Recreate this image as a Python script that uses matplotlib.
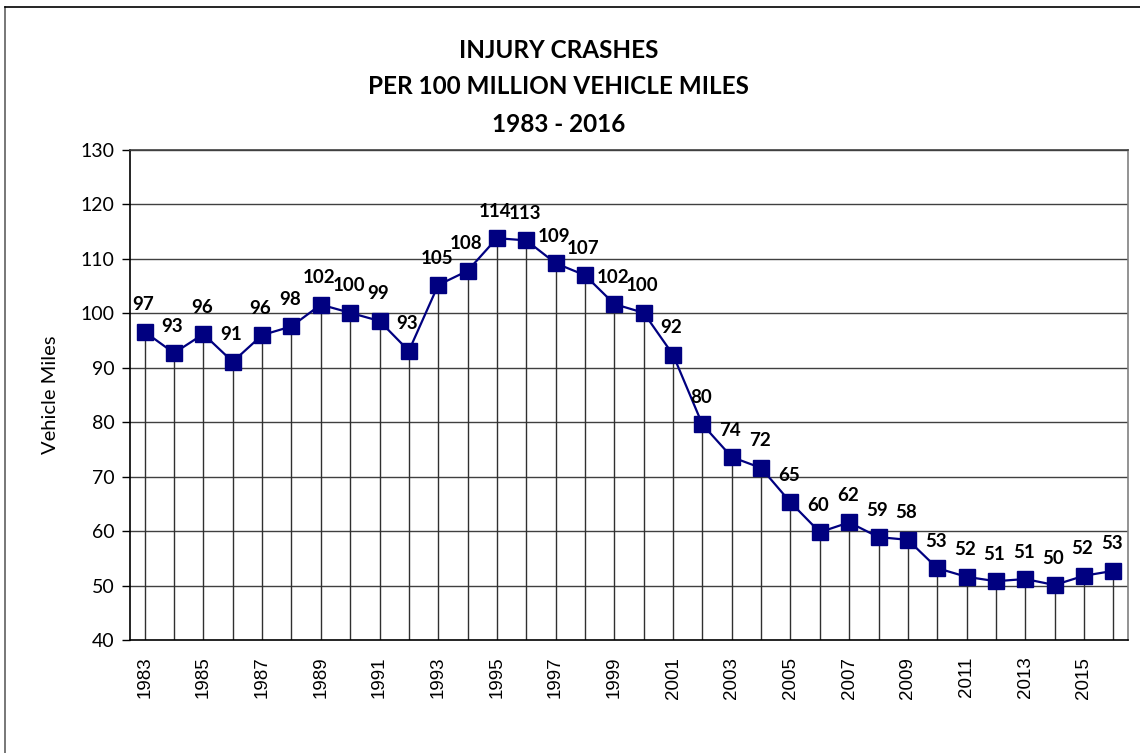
import numpy as np
import matplotlib
matplotlib.use("Agg")
import matplotlib.pyplot as plt
from matplotlib.lines import Line2D

# data
years = list(range(1983, 2017))
rates = [96.6, 92.7, 96.2, 91.1, 96.0, 97.6, 101.6, 100.1, 98.6, 93.1,
         105.2, 107.8, 113.8, 113.4, 109.2, 107.0, 101.7, 100.1, 92.4, 79.6,
         73.6, 71.6, 65.3, 59.8, 61.6, 58.9, 58.4, 53.2, 51.6, 50.8,
         51.2, 50.1, 51.8, 52.7]
title_lines = ["INJURY CRASHES", "PER 100 MILLION VEHICLE MILES", "1983 - 2016"]
y_ticks = [40, 50, 60, 70, 80, 90, 100, 110, 120, 130]

navy = "#000080"
font = ["Lato", "DejaVu Sans"]

fig = plt.figure(figsize=(11.4, 7.53), dpi=100)
ax = fig.add_axes([130 / 1140, 113 / 753, 998 / 1140, 490 / 753])

x = np.arange(len(years))

# horizontal gridlines
for t in y_ticks[1:]:
    ax.axhline(t, color="#404040", lw=1.0, zorder=1)

# drop lines from every point down to the axis
ax.vlines(x, 40, rates, color="#303030", lw=1.0, zorder=2)

ax.plot(x, rates, color=navy, lw=1.6, marker="s", markersize=11.5,
        markerfacecolor=navy, markeredgecolor=navy, zorder=3)

# value labels
for xi, v in zip(x, rates):
    ax.text(xi - 0.05, v + 3.4, f"{round(v):d}", ha="center", va="bottom",
            fontsize=13.5, fontweight="bold", family=font, color="black",
            zorder=4)

ax.set_xlim(-0.5, len(years) - 0.5)
ax.set_ylim(40, 130)
ax.set_yticks(y_ticks)
ax.set_yticklabels([str(t) for t in y_ticks], fontsize=14, family=font)
ax.set_xticks(x[::2])
ax.set_xticklabels([str(y) for y in years[::2]], rotation=90, fontsize=13.5,
                   family=["Liberation Sans", "DejaVu Sans"])
ax.tick_params(axis="x", length=0, pad=12)
ax.tick_params(axis="y", length=6, width=1, color="black", pad=5)
ax.set_ylabel("Vehicle Miles", fontsize=14.5, family=font, labelpad=16)

ax.spines["left"].set_color("black")
ax.spines["bottom"].set_color("black")
ax.spines["top"].set_color("#404040")
ax.spines["right"].set_color("#808080")
for s in ax.spines.values():
    s.set_linewidth(1.2)

# title
for i, line in enumerate(title_lines):
    fig.text(0.49, 1 - (50 + 37 * i) / 753, line, ha="center", va="center",
             fontsize=17.5, fontweight="bold", family=font)

# outer chart frame (top and left edges visible)
fig.add_artist(Line2D([5 / 1140, 5 / 1140], [0, 1 - 7 / 753],
                      color="#606060", lw=1.2, transform=fig.transFigure))
fig.add_artist(Line2D([5 / 1140, 1], [1 - 7 / 753, 1 - 7 / 753],
                      color="black", lw=1.2, transform=fig.transFigure))

fig.savefig("out.png", dpi=100)
